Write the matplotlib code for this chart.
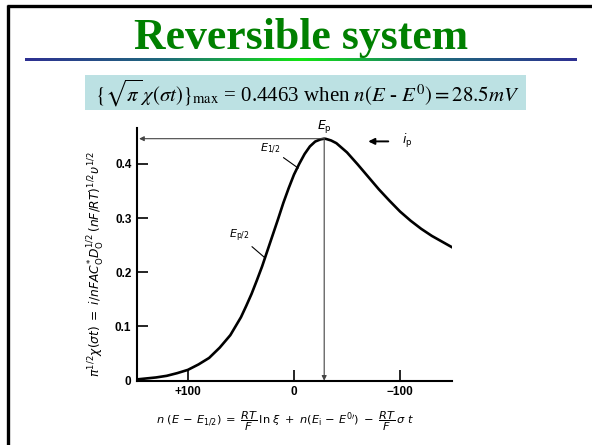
import matplotlib
matplotlib.use('Agg')
import matplotlib.pyplot as plt
import numpy as np
from matplotlib.colors import LinearSegmentedColormap
from matplotlib.patches import Rectangle

# Reversible linear-sweep current function vs. n(E - E1/2), mV
potential_mv = [150, 140, 130, 120, 110, 100, 90, 80, 70, 60, 50, 45, 40, 35, 30,
                25, 20, 15, 10, 5, 0, -5, -10, -15, -20, -25, -28.5, -30, -35,
                -40, -50, -60, -70, -80, -90, -100, -110, -120, -130, -140, -150]
current_fn = [0.002, 0.004, 0.006, 0.009, 0.014, 0.020, 0.030, 0.042, 0.061, 0.084,
              0.117, 0.138, 0.160, 0.185, 0.211, 0.240, 0.269, 0.298, 0.328, 0.355,
              0.380, 0.400, 0.418, 0.432, 0.441, 0.445, 0.4463, 0.446, 0.443,
              0.438, 0.421, 0.399, 0.376, 0.353, 0.332, 0.312, 0.295, 0.280,
              0.267, 0.256, 0.245]
peak_x, peak_y = -28.5, 0.4463
half_x, half_y = -4, 0.392
halfpeak_x, halfpeak_y = 27, 0.226

x_ticks = [100, 0, -100]
x_ticklabels = ['+100', '0', '\u2212100']
y_ticks = [0, 0.1, 0.2, 0.3, 0.4]
y_ticklabels = ['0', '0.1', '0.2', '0.3', '0.4']

W, H = 592, 445
fig = plt.figure(figsize=(W / 100, H / 100), dpi=100)

# slide background layer in pixel coordinates
bg = fig.add_axes([0, 0, 1, 1])
bg.set_xlim(0, W)
bg.set_ylim(H, 0)
bg.axis('off')

bg.plot([8, 8], [5, H], color='black', lw=2.4, solid_capstyle='butt')
bg.plot([7, W], [6, 6], color='black', lw=2.4, solid_capstyle='butt')

bar_cmap = LinearSegmentedColormap.from_list(
    'bar', ['#2e3092', '#1f6a7c', '#12e412', '#1f6a7c', '#2e3092'])
bg.imshow(np.linspace(0, 1, 256)[None, :], extent=[25, 577, 61, 58],
          cmap=bar_cmap, aspect='auto', interpolation='bilinear')

bg.text(301, 38, 'Reversible system', ha='center', va='center',
        fontsize=31.5, fontweight='bold', color='#008000', family='Liberation Serif')

bg.add_patch(Rectangle((85, 75), 441, 35, color='#bce1e3', lw=0))
bg.text(307, 93,
        r'$\{\sqrt{\pi}\,\chi(\sigma t)\}_{\mathrm{max}}$ = 0.4463 when $n(E$ - $E^{0}) = 28.5mV$',
        ha='center', va='center', fontsize=15, family='Liberation Serif',
        math_fontfamily='stix')

# chart
ax = fig.add_axes([137 / W, 64.3 / H, 315 / W, 252.7 / H])
ax.patch.set_alpha(0)
ax.plot(potential_mv, current_fn, color='black', lw=1.9, clip_on=True)
ax.set_xlim(148, -149)
ax.set_ylim(0, 0.466)

for side in ['top', 'right']:
    ax.spines[side].set_visible(False)
for side in ['left', 'bottom']:
    ax.spines[side].set_linewidth(1.5)

ax.set_xticks(x_ticks)
ax.set_xticklabels(x_ticklabels)
ax.set_yticks(y_ticks)
ax.set_yticklabels(y_ticklabels)
ax.tick_params(direction='in', length=8, width=1.2, labelsize=8.5, pad=4)
for lbl in ax.get_xticklabels() + ax.get_yticklabels():
    lbl.set_fontweight('bold')
    lbl.set_family('Liberation Sans')

# peak guides
ax.annotate('', xy=(146, peak_y), xytext=(peak_x, peak_y),
            arrowprops=dict(arrowstyle='-|>', color='#444444', lw=0.8,
                            mutation_scale=7, shrinkA=0, shrinkB=0))
ax.annotate('', xy=(peak_x, 0.0), xytext=(peak_x, peak_y),
            arrowprops=dict(arrowstyle='-|>', color='#444444', lw=0.8,
                            mutation_scale=7, shrinkA=0, shrinkB=0))

ax.annotate(r'$E_{\mathrm{p}}$', xy=(peak_x, peak_y), xytext=(0, 3),
            textcoords='offset points', ha='center', va='bottom',
            fontsize=9, math_fontfamily='dejavusans', annotation_clip=False)
ax.annotate(r'$E_{1/2}$', xy=(half_x, half_y), xytext=(-20, 9),
            textcoords='offset points', ha='center', va='bottom', fontsize=8,
            math_fontfamily='dejavusans',
            arrowprops=dict(arrowstyle='-', color='black', lw=0.8,
                            shrinkA=0, shrinkB=0, relpos=(1, 0)))
ax.annotate(r'$E_{\mathrm{p}/2}$', xy=(halfpeak_x, halfpeak_y), xytext=(-19, 10),
            textcoords='offset points', ha='center', va='bottom', fontsize=8,
            math_fontfamily='dejavusans',
            arrowprops=dict(arrowstyle='-', color='black', lw=0.8,
                            shrinkA=0, shrinkB=0, relpos=(1, 0)))
ax.annotate(r'$i_{\mathrm{p}}$', xy=(-70, peak_y - 0.005), xytext=(-102, peak_y - 0.005),
            ha='left', va='center', fontsize=9, math_fontfamily='dejavusans',
            arrowprops=dict(arrowstyle='-|>', color='black', lw=1.4,
                            mutation_scale=9, shrinkA=8, shrinkB=0),
            annotation_clip=False)

ax.set_ylabel(r'$\pi^{1/2}\chi(\sigma t)\;=\;i/nFAC^{*}_{\mathrm{O}}D^{1/2}_{\mathrm{O}}\,(nF/RT)^{1/2}\upsilon^{1/2}$',
              fontsize=8.8, math_fontfamily='dejavusans')
ax.yaxis.set_label_coords(-0.10, 0.46)
ax.set_xlabel(r'$n\ (E\,-\,E_{1/2})\;=\;\dfrac{RT}{F}\,\ln\,\xi\;+\;n(E_{\mathrm{i}}\,-\,E^{0\prime})\;-\;\dfrac{RT}{F}\,\sigma\ t$',
              fontsize=8.2, math_fontfamily='dejavusans')
ax.xaxis.set_label_coords(0.47, -0.115)

fig.savefig('out.png', dpi=100)
